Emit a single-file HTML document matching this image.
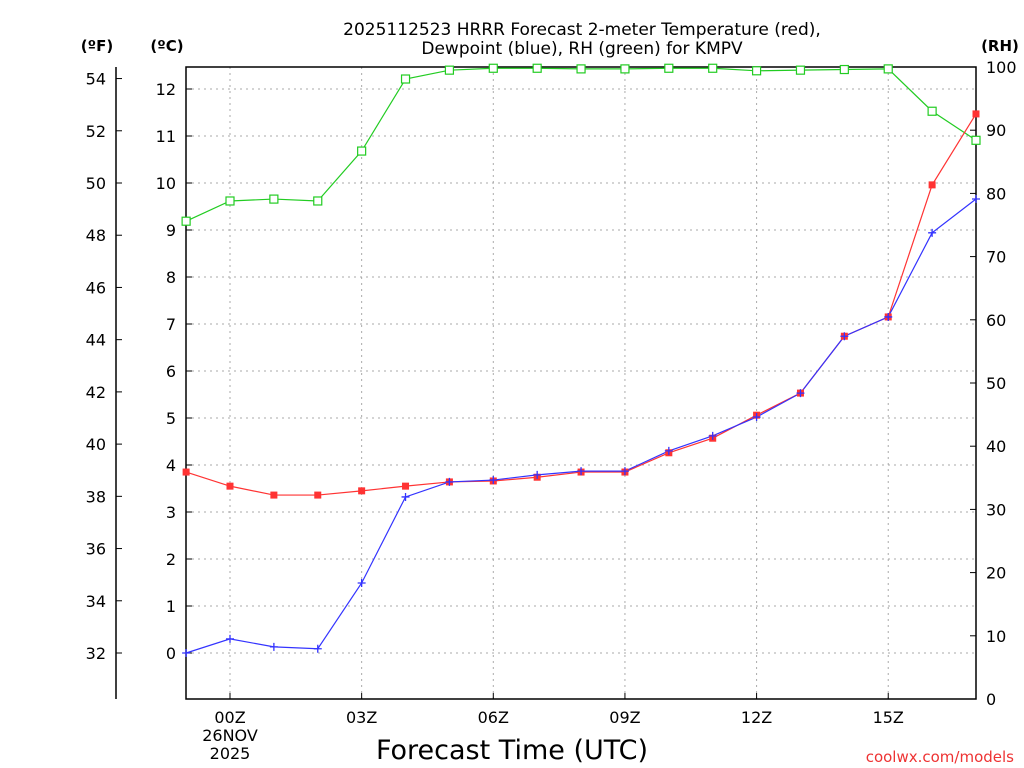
<!DOCTYPE html>
<html><head><meta charset="utf-8"><style>
body{margin:0;background:#fff;}
svg{display:block;font-family:"DejaVu Sans","Liberation Sans",sans-serif;}
</style></head><body>
<svg id="chart" width="1024" height="768" viewBox="0 0 1024 768">
<text x="582" y="35" font-size="17" text-anchor="middle">2025112523 HRRR Forecast 2-meter Temperature (red),</text>
<text x="582" y="54" font-size="17" text-anchor="middle">Dewpoint (blue), RH (green) for KMPV</text>
<text x="97" y="51" font-size="15" font-weight="bold" text-anchor="middle">(ºF)</text>
<text x="167" y="51" font-size="15" font-weight="bold" text-anchor="middle">(ºC)</text>
<text x="1000" y="51" font-size="15" font-weight="bold" text-anchor="middle">(RH)</text>
<g id="grid"></g><g id="axes"></g><g id="series"></g>
<text x="512" y="759" font-size="27" text-anchor="middle">Forecast Time (UTC)</text>
<text x="1014" y="762" font-size="15" fill="#e33" text-anchor="end">coolwx.com/models</text>
</svg>
<script>
const hours=[-1,0,1,2,3,4,5,6,7,8,9,10,11,12,13,14,15,16,17];
const tempC=[3.85,3.55,3.36,3.36,3.45,3.55,3.64,3.66,3.74,3.85,3.85,4.26,4.57,5.06,5.53,6.74,7.15,9.96,11.47];
const dewC=[0,0.3,0.13,0.09,1.49,3.32,3.64,3.68,3.79,3.87,3.87,4.3,4.62,5.02,5.53,6.74,7.15,8.94,9.66];
const rh=[75.6,78.8,79.1,78.8,86.7,98.1,99.5,99.8,99.8,99.7,99.7,99.8,99.8,99.4,99.5,99.6,99.7,93,88.4];
const cTicks=[0,1,2,3,4,5,6,7,8,9,10,11,12];
const fTicks=[32,34,36,38,40,42,44,46,48,50,52,54];
const rhTicks=[0,10,20,30,40,50,60,70,80,90,100];
const xTicks=[0,3,6,9,12,15];
const xLabels=["00Z","03Z","06Z","09Z","12Z","15Z"];
const L=186,R=976,T=67,B=699;
const x=h=>230+(h)*(R-230)/17;
const yC=c=>653-47*c;
const yF=f=>yC((f-32)*5/9);
const yRH=r=>B-(B-T)*r/100;
const NS="http://www.w3.org/2000/svg";
function mk(tag,at,parent){const e=document.createElementNS(NS,tag);for(const k in at)e.setAttribute(k,at[k]);document.getElementById(parent).appendChild(e);return e;}
// grid
cTicks.forEach(c=>{const e=mk('line',{x1:L,x2:R,y1:yC(c),y2:yC(c),stroke:'#aaa','stroke-dasharray':'2,4'},'grid');

});
xTicks.forEach(h=>{const e=mk('line',{x1:x(h),x2:x(h),y1:T,y2:B,stroke:'#aaa','stroke-dasharray':'2,4'},'grid');

});
// frame
let fr=mk('rect',{x:L,y:T,width:R-L,height:B-T,fill:'none',stroke:'#000','stroke-width':1.5},'axes');


let fa=mk('line',{x1:116,x2:116,y1:T,y2:B,stroke:'#000','stroke-width':1.5},'axes');


cTicks.forEach(c=>{mk('line',{x1:L,x2:L+6,y1:yC(c),y2:yC(c),stroke:'#000'},'axes');
const t=mk('text',{x:176,y:yC(c)+6,'font-size':16,'text-anchor':'end'},'axes');t.textContent=c;

});
fTicks.forEach(f=>{mk('line',{x1:116,x2:122,y1:yF(f),y2:yF(f),stroke:'#000'},'axes');
const t=mk('text',{x:106,y:yF(f)+6,'font-size':16,'text-anchor':'end'},'axes');t.textContent=f;

});
rhTicks.forEach(r=>{mk('line',{x1:R-6,x2:R,y1:yRH(r),y2:yRH(r),stroke:'#000'},'axes');
const t=mk('text',{x:986,y:yRH(r)+6,'font-size':16},'axes');t.textContent=r;

});
xTicks.forEach((h,i)=>{mk('line',{x1:x(h),x2:x(h),y1:B,y2:B-6,stroke:'#000'},'axes');
const t=mk('text',{x:x(h),y:723,'font-size':16,'text-anchor':'middle'},'axes');t.textContent=xLabels[i];

});
[["26NOV",741],["2025",759]].forEach(d=>{const t=mk('text',{x:x(0),y:d[1],'font-size':16,'text-anchor':'middle'},'axes');t.textContent=d[0];

});
// series
function line(vals,yf,col,name){const p=mk('polyline',{points:vals.map((v,i)=>x(hours[i])+','+yf(v)).join(' '),fill:'none',stroke:col,'stroke-width':1.2},'series');

}
line(rh,yRH,'#2c2','rh-line');
line(tempC,yC,'#f33','temperature-line');
line(dewC,yC,'#33f','dewpoint-line');
rh.forEach((v,i)=>{const m=mk('rect',{x:x(hours[i])-4,y:yRH(v)-4,width:8,height:8,fill:'#fff',stroke:'#2c2','stroke-width':1.2},'series');

});
tempC.forEach((v,i)=>{const m=mk('rect',{x:x(hours[i])-3.5,y:yC(v)-3.5,width:7,height:7,fill:'#f33'},'series');

});
dewC.forEach((v,i)=>{const X=x(hours[i]),Y=yC(v);const m=mk('path',{d:`M${X-4},${Y}H${X+4}M${X},${Y-4}V${Y+4}`,stroke:'#33f','stroke-width':1.3},'series');

});
</script>
</body></html>
